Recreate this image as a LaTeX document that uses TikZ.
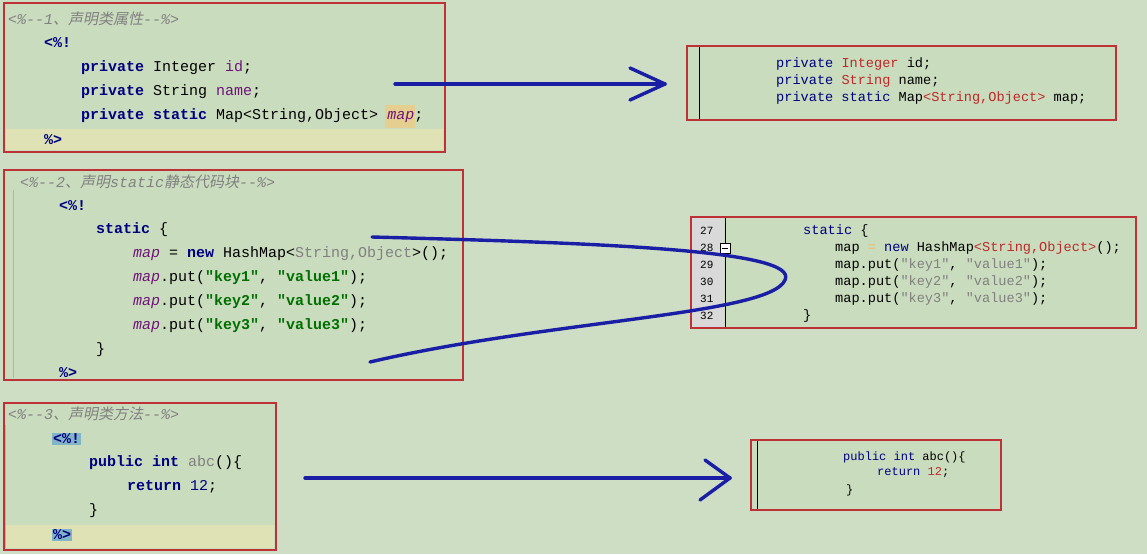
\documentclass[tikz,border=0pt]{standalone}
\usepackage{fontspec}
\setmonofont{Liberation Mono}
\newfontfamily\cjk[FakeSlant=0.2]{Noto Sans CJK SC}
\definecolor{bg}{RGB}{206,222,196}
\definecolor{boxbg}{RGB}{202,220,190}
\definecolor{frame}{RGB}{190,50,55}
\definecolor{kw}{RGB}{0,0,128}
\definecolor{cm}{RGB}{128,128,128}
\definecolor{pu}{RGB}{110,20,120}
\definecolor{gr}{RGB}{0,110,0}
\definecolor{ar}{RGB}{25,30,165}
\definecolor{rd}{RGB}{190,40,40}
\definecolor{hl}{RGB}{130,180,200}
\definecolor{yl}{RGB}{222,226,180}
\begin{document}
\begin{tikzpicture}[x=1pt,y=-1pt,
  box/.style={draw=frame,line width=1.6pt,fill=boxbg},
  code/.style={anchor=west,inner sep=0pt,font=\ttfamily\fontsize{15}{15}\selectfont},
  rcode/.style={anchor=west,inner sep=0pt,font=\ttfamily\fontsize{13.6}{14}\selectfont},
  scode/.style={anchor=west,inner sep=0pt,font=\ttfamily\fontsize{12}{12}\selectfont},
  ln/.style={anchor=west,inner sep=0pt,font=\ttfamily\fontsize{11}{12}\selectfont},
  arr/.style={draw=ar,line width=3.4pt,line cap=round,line join=round}]
\fill[bg] (0,0) rectangle (1147,554);
\useasboundingbox (0,0) rectangle (1147,554);
% box 1
\draw[box] (4,3) rectangle (445,152);
\fill[yl] (6,129) rectangle (443,150);
\fill[yl!80!orange] (385,105) rectangle (415,128);
\node[code,text=cm] (c1) at (8,19) {\itshape <\%-{}-1{\cjk 、声明类属性}-{}-\%>};
\node[code] (b1a) at (44,43) {\bfseries\color{kw}<\%!};
\node[code] (b1b) at (81,68) {\textbf{\color{kw}private} Integer {\color{pu}id};};
\node[code] (b1c) at (81,92) {\textbf{\color{kw}private} String {\color{pu}name};};
\node[code] (b1d) at (81,116) {\textbf{\color{kw}private static} Map<String,Object> {\color{pu}\itshape map};};
\node[code] (b1e) at (44,140) {\bfseries\color{kw}\%>};
% box 2
\draw[box] (4,170) rectangle (463,380);
\draw[cm!60,line width=0.8pt] (13,190) -- (13,378);
\node[code,text=cm] (c2) at (20,182) {\itshape <\%-{}-2{\cjk 、声明}static{\cjk 静态代码块}-{}-\%>};
\node[code] (b2a) at (59,206) {\bfseries\color{kw}<\%!};
\node[code] (b2b) at (96,230) {\textbf{\color{kw}static} \{};
\node[code] (b2c) at (133,254) {{\color{pu}\itshape map} = \textbf{\color{kw}new} HashMap<{\color{cm}String,Object}>();};
\node[code] (b2d) at (133,278) {{\color{pu}\itshape map}.put(\textbf{\color{gr}"key1"}, \textbf{\color{gr}"value1"});};
\node[code] (b2e) at (133,302) {{\color{pu}\itshape map}.put(\textbf{\color{gr}"key2"}, \textbf{\color{gr}"value2"});};
\node[code] (b2f) at (133,326) {{\color{pu}\itshape map}.put(\textbf{\color{gr}"key3"}, \textbf{\color{gr}"value3"});};
\node[code] (b2g) at (96,350) {\}};
\node[code] (b2h) at (59,373) {\bfseries\color{kw}\%>};
% box 3
\draw[box] (4,403) rectangle (276,550);
\fill[yl] (6,525) rectangle (274,548);
\draw[cm!60,line width=0.8pt] (5,425) -- (5,548);
\node[code,text=cm] (c3) at (8,414) {\itshape <\%-{}-3{\cjk 、声明类方法}-{}-\%>};
\node[code,fill=hl,inner sep=1pt] (b3a) at (52,439) {\bfseries\color{kw}<\%!};
\node[code] (b3b) at (89,463) {\textbf{\color{kw}public int} {\color{cm}abc}()\{};
\node[code] (b3c) at (127,487) {\textbf{\color{kw}return} {\color{kw}12};};
\node[code] (b3d) at (89,511) {\}};
\node[code,fill=hl,inner sep=1pt] (b3e) at (52,535) {\bfseries\color{kw}\%>};
% right box 1
\draw[box] (687,46) rectangle (1116,120);
\draw[black,line width=1pt] (699,47) -- (699,119);
\node[rcode] (r1a) at (776,64) {{\color{kw}private} {\color{rd}Integer} id;};
\node[rcode] (r1b) at (776,81) {{\color{kw}private} {\color{rd}String} name;};
\node[rcode] (r1c) at (776,98) {{\color{kw}private static} Map{\color{rd}<String,Object>} map;};
% right box 2
\draw[box] (691,217) rectangle (1136,328);
\fill[black!15] (692,218) rectangle (724,327);
\draw[black,line width=1pt] (725,218) -- (725,327);
\foreach \n/\yy in {27/231,28/248,29/265,30/282,31/299,32/316}
  \node[ln] (ln\n) at (700,\yy) {\n};
\draw[black,line width=0.6pt,fill=white] (720,243) rectangle (730,253);
\draw[black,line width=0.6pt] (722,248) -- (728,248);
\node[rcode] (r2a) at (803,231) {{\color{kw}static} \{};
\node[rcode] (r2b) at (835,248) {map {\color{yl!60!orange}=} {\color{kw}new} HashMap{\color{rd}<String,Object>}();};
\node[rcode] (r2c) at (835,265) {map.put({\color{cm}"key1"}, {\color{cm}"value1"});};
\node[rcode] (r2d) at (835,282) {map.put({\color{cm}"key2"}, {\color{cm}"value2"});};
\node[rcode] (r2e) at (835,299) {map.put({\color{cm}"key3"}, {\color{cm}"value3"});};
\node[rcode] (r2f) at (803,316) {\}};
% right box 3
\draw[box] (751,440) rectangle (1001,510);
\draw[black,line width=0.8pt] (757,441) -- (757,509);
\node[scode] (r3a) at (843,457) {{\color{kw}public int} abc()\{};
\node[scode] (r3b) at (877,473) {{\color{kw}return} {\color{rd}12};};
\node[scode] (r3c) at (846,490) {\}};
% arrows
\coordinate (a1s) at (395,84); \coordinate (a1e) at (665,84);
\draw[arr] (a1s) -- (a1e);
\draw[arr] (630,68) -- (a1e) -- (630,100);
\coordinate (a2s) at (372,237); \coordinate (a2m) at (785,280); \coordinate (a2e) at (370,362);
\draw[arr] (a2s) .. controls (600,243) and (800,250) .. (a2m) .. controls (770,315) and (550,320) .. (a2e);
\coordinate (a3s) at (305,478); \coordinate (a3e) at (730,478);
\draw[arr] (a3s) -- (a3e);
\draw[arr] (705,460) -- (a3e) -- (700,500);
\end{tikzpicture}
\end{document}
